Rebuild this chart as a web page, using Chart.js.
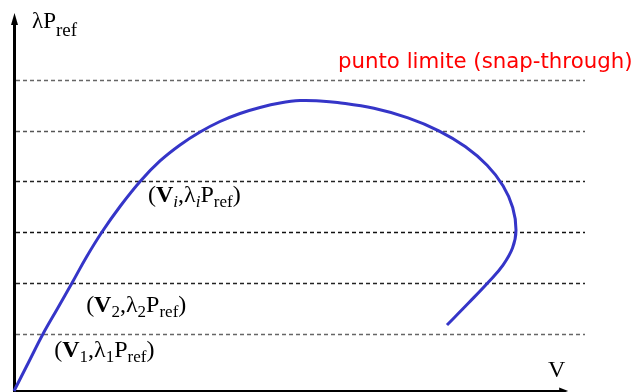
<!DOCTYPE html>
<html>
<head>
<meta charset="utf-8">
<script src="https://cdn.jsdelivr.net/npm/chart.js@4"></script>
<style>
  html, body { margin: 0; padding: 0; background: #ffffff; }
  canvas { display: block; }
</style>
</head>
<body>
<canvas id="chart" width="643" height="392"></canvas>
<script>
// Equilibrium path: displacement V vs load factor λ (units of Pref)
const displacement = [0, 0.241, 0.482, 0.724, 0.965, 1.206, 1.464, 1.764, 2.105, 2.429, 2.762,
                      3.095, 3.427, 3.760, 4.093, 4.426, 4.758, 5.091, 5.382, 5.988, 6.555,
                      7.068, 7.512, 7.871, 8.136, 8.297, 8.352, 8.294, 8.136, 7.903, 7.562, 7.204];
const loadFactor   = [0, 0.561, 1.122, 1.624, 2.126, 2.638, 3.130, 3.632, 4.134, 4.528, 4.843,
                      5.098, 5.305, 5.463, 5.581, 5.669, 5.717, 5.709, 5.679, 5.565, 5.376,
                      5.122, 4.807, 4.443, 4.041, 3.612, 3.169, 2.815, 2.480, 2.156, 1.732, 1.299];

// Load levels marked by dashed lines
const loadLevels = [1.12, 2.12, 3.13, 4.13, 5.12, 6.12];
const levelColors = ['#666666', '#222222', '#111111', '#222222', '#555555', '#666666'];

const xRange = { min: 0, max: 9.5 };
const yRange = { min: 0, max: 7.5 };
const xArrowTip = 9.22;
const yArrowTip = 7.44;

const SERIF = '"Liberation Serif", "Times New Roman", serif';
const f = (size, style) => (style ? style + ' ' : '') + size + 'px ' + SERIF;

// Rich text labels: each part is [text, font, baseline shift]
const MAIN = 24, SUB = 17, SHIFT = 5;
const pointLabel = (x, y, sub, subFont) => ({
  x, y, parts: [['(', f(MAIN)], ['V', f(MAIN, 'bold')], [sub, subFont, SHIFT],
    [',', f(MAIN)], ['λ', f(MAIN)], [sub, subFont, SHIFT], ['P', f(MAIN)],
    ['ref', f(SUB), SHIFT], [')', f(MAIN)]]
});
const textLabels = [
  { x: 0.30, y: 7.14, parts: [['λP', f(23)], ['ref', f(19), 8]] },
  pointLabel(2.23, 3.73, 'i', f(SUB, 'italic')),
  pointLabel(1.20, 1.56, '2', f(SUB)),
  pointLabel(0.67, 0.67, '1', f(SUB))
];
const axisLabelV = { x: 9.03, y: 0.27, text: 'V' };
const limitLabel = { x: 5.39, y: 6.36, text: 'punto limite (snap-through)' };

function drawRich(ctx, x, y, parts) {
  ctx.textAlign = 'left';
  ctx.textBaseline = 'alphabetic';
  for (const [t, font, dy] of parts) {
    ctx.font = font;
    ctx.fillText(t, x, y + (dy || 0));
    x += ctx.measureText(t).width;
  }
}

const backdrop = {
  id: 'backdrop',
  beforeDatasetsDraw(chart) {
    const { ctx, chartArea, scales: { x, y } } = chart;
    ctx.save();
    // dashed load levels
    ctx.lineWidth = 1.4;
    ctx.setLineDash([4, 3]);
    loadLevels.forEach((v, i) => {
      const py = Math.round(y.getPixelForValue(v)) + 0.5;
      ctx.strokeStyle = levelColors[i];
      ctx.beginPath();
      ctx.moveTo(x.getPixelForValue(0) + 2, py);
      ctx.lineTo(chartArea.right, py);
      ctx.stroke();
    });
    ctx.setLineDash([]);

    const ox = x.getPixelForValue(0), oy = y.getPixelForValue(0);
    ctx.strokeStyle = '#000';
    ctx.fillStyle = '#000';
    // vertical axis with arrow
    const ty = y.getPixelForValue(yArrowTip);
    ctx.lineWidth = 3;
    ctx.beginPath();
    ctx.moveTo(ox + 0.5, oy + 1);
    ctx.lineTo(ox + 0.5, ty + 8);
    ctx.stroke();
    ctx.beginPath();
    ctx.moveTo(ox + 0.5, ty);
    ctx.lineTo(ox + 4, ty + 12);
    ctx.lineTo(ox - 3, ty + 12);
    ctx.closePath();
    ctx.fill();
    // horizontal axis with arrow
    const tx = x.getPixelForValue(xArrowTip);
    ctx.lineWidth = 2;
    ctx.beginPath();
    ctx.moveTo(ox - 1, oy);
    ctx.lineTo(tx - 6, oy);
    ctx.stroke();
    ctx.beginPath();
    ctx.moveTo(tx, oy);
    ctx.lineTo(tx - 9, oy - 3.5);
    ctx.lineTo(tx - 9, oy + 3.5);
    ctx.closePath();
    ctx.fill();
    ctx.restore();
  },
  afterDraw(chart) {
    const { ctx, scales: { x, y } } = chart;
    ctx.save();
    ctx.fillStyle = '#000';
    textLabels.forEach(l => drawRich(ctx, x.getPixelForValue(l.x), y.getPixelForValue(l.y), l.parts));
    ctx.font = f(24);
    ctx.textAlign = 'center';
    ctx.fillText(axisLabelV.text, x.getPixelForValue(axisLabelV.x), y.getPixelForValue(axisLabelV.y));
    ctx.fillStyle = '#ff0000';
    ctx.font = '21.3px "DejaVu Sans", sans-serif';
    ctx.textAlign = 'left';
    ctx.fillText(limitLabel.text, x.getPixelForValue(limitLabel.x), y.getPixelForValue(limitLabel.y));
    ctx.restore();
  }
};

new Chart(document.getElementById('chart'), {
  type: 'scatter',
  data: {
    datasets: [{
      data: displacement.map((v, i) => ({ x: v, y: loadFactor[i] })),
      showLine: true,
      borderColor: '#3535c8',
      borderWidth: 3,
      pointRadius: 0,
      tension: 0.4,
      fill: false,
      clip: false
    }]
  },
  options: {
    responsive: false,
    animation: false,
    layout: { padding: { left: 14, right: 58, top: 10, bottom: 1 } },
    plugins: { legend: { display: false }, tooltip: { enabled: false } },
    scales: {
      x: { type: 'linear', display: false, min: xRange.min, max: xRange.max },
      y: { type: 'linear', display: false, min: yRange.min, max: yRange.max }
    }
  },
  plugins: [backdrop]
});
</script>
</body>
</html>
